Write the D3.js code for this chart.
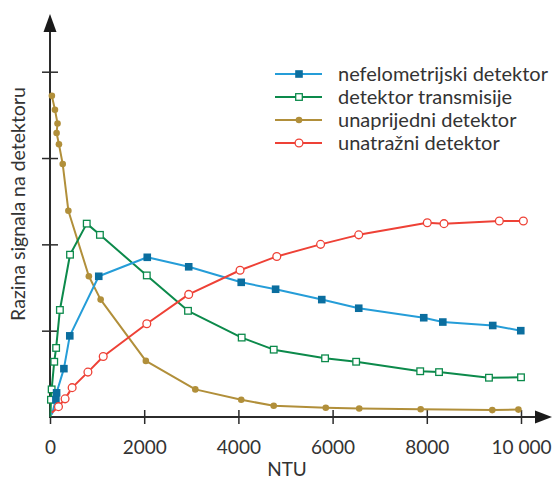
<!DOCTYPE html>
<html>
<head>
<meta charset="utf-8">
<script src="https://cdn.jsdelivr.net/npm/d3@7"></script>
<style>
  body { margin: 0; background: #fff; }
  text { font-family: Lato, "Open Sans", sans-serif; fill: #333; }
</style>
</head>
<body>
<svg id="chart" width="555" height="480"></svg>
<script>
// values: [NTU, signal level in tick units]
// first point of the three rising curves is where the line leaves the origin (no marker)
const nefeloPoints = [[40, 0.03], [125, 0.20], [140, 0.28], [295, 0.56], [420, 0.94], [1035, 1.63],
  [2065, 1.85], [2945, 1.74], [4060, 1.56], [4790, 1.48], [5770, 1.36], [6555, 1.26],
  [7935, 1.15], [8340, 1.10], [9400, 1.06], [9995, 1.00]];
const transPoints = [[10, 0.0], [20, 0.20], [35, 0.32], [90, 0.64], [130, 0.80], [210, 1.24],
  [425, 1.88], [780, 2.24], [1060, 2.11], [2055, 1.64], [2930, 1.23], [4070, 0.92],
  [4750, 0.78], [5840, 0.68], [6500, 0.64], [7860, 0.53], [8260, 0.52], [9320, 0.455], [10000, 0.46]];
const forwardPoints = [[40, 3.72], [105, 3.56], [160, 3.40], [140, 3.29], [190, 3.16], [270, 2.93],
  [390, 2.39], [825, 1.63], [1075, 1.36], [2035, 0.65], [3085, 0.32], [4060, 0.20],
  [4750, 0.13], [5855, 0.107], [6565, 0.098], [7870, 0.089], [9390, 0.08], [9945, 0.086]];
const backPoints = [[40, 0.05], [180, 0.12], [320, 0.21], [470, 0.34], [805, 0.52], [1130, 0.70],
  [2055, 1.08], [2945, 1.42], [4035, 1.70], [4815, 1.86], [5745, 2.00], [6555, 2.11],
  [8010, 2.25], [8365, 2.24], [9540, 2.27], [10050, 2.27]];

const xTicks = [0, 2000, 4000, 6000, 8000, 10000];
const xTickLabels = ["0", "2000", "4000", "6000", "8000", "10 000"];
const yTicks = [1, 2, 3, 4];
const legendLabels = ["nefelometrijski detektor", "detektor transmisije", "unaprijedni detektor", "unatražni detektor"];

const series = [
  { label: legendLabels[2], data: forwardPoints, color: "#b18f3a", marker: "dot", skip: 0 },
  { label: legendLabels[1], data: transPoints, color: "#0c8a4b", marker: "openSquare", skip: 1 },
  { label: legendLabels[0], data: nefeloPoints, color: "#259dd8", dark: "#0b6e9f", marker: "square", skip: 1 },
  { label: legendLabels[3], data: backPoints, color: "#ee4136", marker: "openCircle", skip: 1 }
];
const legendOrder = [2, 1, 0, 3];

const svg = d3.select("#chart");
const axisColor = "#2b2b2b";

const xScale = d3.scaleLinear().domain([0, 10000]).range([50, 521]);
const yScale = d3.scaleLinear().domain([0, 4]).range([417, 71.7]);

// x axis
const xAxis = svg.append("g")
  .attr("transform", `translate(0,${yScale(0)})`)
  .call(d3.axisBottom(xScale).tickValues(xTicks).tickFormat((d, i) => xTickLabels[i]).tickSize(7));
xAxis.select(".domain").remove();
xAxis.selectAll(".tick line").attr("y1", -7).attr("y2", 7).attr("stroke", axisColor).attr("stroke-width", 1.5);
xAxis.selectAll(".tick text").attr("y", 37).attr("dy", null)
  .style("font-size", "19px").style("font-family", "Lato").attr("fill", "#333");
svg.append("line")
  .attr("x1", xScale(0) - 1).attr("x2", 537)
  .attr("y1", yScale(0)).attr("y2", yScale(0))
  .attr("stroke", axisColor).attr("stroke-width", 2);
svg.append("path")
  .attr("d", `M535,${yScale(0) - 6.5} L552,${yScale(0)} L535,${yScale(0) + 6.5} Z`)
  .attr("fill", "#1a1a1a");

// y axis
const yAxis = svg.append("g")
  .attr("transform", `translate(${xScale(0)},0)`)
  .call(d3.axisLeft(yScale).tickValues(yTicks).tickFormat(""));
yAxis.select(".domain").remove();
yAxis.selectAll(".tick line").attr("x1", -8).attr("x2", 8).attr("stroke", axisColor).attr("stroke-width", 1.5);
svg.append("line")
  .attr("x1", xScale(0)).attr("x2", xScale(0))
  .attr("y1", yScale(0) + 1).attr("y2", 30)
  .attr("stroke", axisColor).attr("stroke-width", 2);
svg.append("path")
  .attr("d", `M${xScale(0) - 6.5},32 L${xScale(0)},14 L${xScale(0) + 6.5},32 Z`)
  .attr("fill", "#1a1a1a");

// axis titles
svg.append("text")
  .attr("x", 287).attr("y", 476)
  .attr("text-anchor", "middle")
  .style("font-size", "19px")
  .text("NTU");
svg.append("text")
  .attr("transform", "translate(25,204) rotate(-90)")
  .attr("text-anchor", "middle")
  .style("font-size", "19.5px")
  .text("Razina signala na detektoru");

function drawMarker(g, s, x, y) {
  if (s.marker === "square") {
    g.append("rect").attr("x", x - 3.8).attr("y", y - 3.8).attr("width", 7.6).attr("height", 7.6)
      .attr("fill", s.dark);
  } else if (s.marker === "openSquare") {
    g.append("rect").attr("x", x - 3.3).attr("y", y - 3.3).attr("width", 6.6).attr("height", 6.6)
      .attr("fill", "#fff").attr("stroke", s.color).attr("stroke-width", 1.3);
  } else if (s.marker === "dot") {
    g.append("circle").attr("cx", x).attr("cy", y).attr("r", 3.3).attr("fill", s.color);
  } else {
    g.append("circle").attr("cx", x).attr("cy", y).attr("r", 3.9)
      .attr("fill", "#fff").attr("stroke", s.color).attr("stroke-width", 1.3);
  }
}

const line = d3.line().x(d => xScale(d[0])).y(d => yScale(d[1]));

series.forEach(s => {
  const g = svg.append("g");
  g.append("path")
    .datum(s.data)
    .attr("d", line)
    .attr("fill", "none")
    .attr("stroke", s.color)
    .attr("stroke-width", 2)
    .attr("stroke-linejoin", "round");
  s.data.slice(s.skip).forEach(d => drawMarker(g, s, xScale(d[0]), yScale(d[1])));
});

// legend
const legend = svg.append("g");
legendOrder.forEach((si, i) => {
  const s = series[si];
  const y = 74 + i * 23;
  legend.append("line")
    .attr("x1", 275).attr("x2", 322).attr("y1", y).attr("y2", y)
    .attr("stroke", s.color).attr("stroke-width", 2);
  drawMarker(legend, s, 299, y);
  legend.append("text")
    .attr("x", 338).attr("y", y + 6.5)
    .style("font-size", "20px")
    .text(s.label);
});
</script>
</body>
</html>
